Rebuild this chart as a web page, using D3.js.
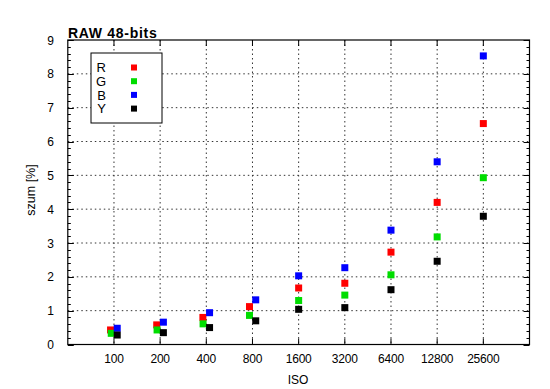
<!DOCTYPE html>
<html><head><meta charset="utf-8">
<script src="https://cdn.jsdelivr.net/npm/d3@7/dist/d3.min.js"></script>
<style>
body{margin:0;background:#fff;}
text{font-family:"Liberation Sans",Arial,sans-serif;}
</style></head>
<body><svg id="c" width="550" height="389"></svg>
<script>
const title = "RAW 48-bits";
const isoTicks = [100,200,400,800,1600,3200,6400,12800,25600];
// measured ISO positions per series (slight offsets at low ISO)
const isoR = [95,190,380,765,1600,3200,6400,12800,25600];
const isoG = [96,191,381,765,1600,3200,6400,12800,25600];
const isoB = [105,210,420,840,1600,3200,6400,12800,25600];
const isoY = [105,210,420,840,1600,3200,6400,12800,25600];
const valR = [0.43,0.58,0.80,1.12,1.67,1.81,2.73,4.20,6.53];
const valG = [0.33,0.43,0.61,0.86,1.30,1.46,2.06,3.18,4.93];
const valB = [0.48,0.66,0.94,1.32,2.03,2.27,3.38,5.40,8.53];
const valY = [0.28,0.35,0.50,0.70,1.04,1.09,1.62,2.46,3.79];
const seriesNames = ["R","G","B","Y"];
const seriesColors = ["#ff0000","#00dd00","#0000ff","#000000"];
const yMajor = [0,1,2,3,4,5,6,7,8,9];

const series = [
  {name:"R", x:isoR, y:valR},
  {name:"G", x:isoG, y:valG},
  {name:"B", x:isoB, y:valB},
  {name:"Y", x:isoY, y:valY}
];

const L=67.8, R=529.5, T=40, B=344.5;
const svg = d3.select("#c");
const x = d3.scaleLog().base(2).domain([50,51200]).range([L,R]);
const y = d3.scaleLinear().domain([0,9]).range([B,T]);

// grid
const g = svg.append("g");
g.selectAll("line.vg").data(isoTicks).join("line")
  .attr("x1",d=>x(d)).attr("x2",d=>x(d)).attr("y1",T).attr("y2",B)
  .attr("stroke","#333").attr("stroke-width",1).attr("stroke-dasharray","1.5,3");
g.selectAll("line.hg").data(yMajor.filter(v=>v>0&&v<9)).join("line")
  .attr("x1",L).attr("x2",R).attr("y1",d=>y(d)).attr("y2",d=>y(d))
  .attr("stroke","#333").attr("stroke-width",1).attr("stroke-dasharray","1.5,3");

// axes (inward ticks, mirrored)
const minor = d3.range(0,9.001,0.2);
const ax = svg.append("g").attr("stroke","#000").attr("stroke-width",1);
ax.selectAll("line.ly").data(minor).join("line")
  .attr("x1",L).attr("x2",(d)=>L+(Math.abs(d-Math.round(d))<1e-6?6:3))
  .attr("y1",d=>Math.round(y(d))+0.5).attr("y2",d=>Math.round(y(d))+0.5);
ax.selectAll("line.ry").data(minor).join("line")
  .attr("x1",R).attr("x2",(d)=>R-(Math.abs(d-Math.round(d))<1e-6?6:3))
  .attr("y1",d=>Math.round(y(d))+0.5).attr("y2",d=>Math.round(y(d))+0.5);
ax.selectAll("line.bx").data(isoTicks).join("line")
  .attr("x1",d=>x(d)).attr("x2",d=>x(d)).attr("y1",B).attr("y2",B-6);
ax.selectAll("line.tx").data(isoTicks).join("line")
  .attr("x1",d=>x(d)).attr("x2",d=>x(d)).attr("y1",T).attr("y2",T+6);
svg.append("rect").attr("x",L).attr("y",T).attr("width",R-L).attr("height",B-T)
  .attr("fill","none").attr("stroke","#000").attr("stroke-width",1.2);

// tick labels
svg.selectAll("text.xt").data(isoTicks).join("text")
  .attr("x",d=>x(d)).attr("y",363).attr("text-anchor","middle")
  .attr("font-size",12).attr("letter-spacing",-0.2).text(d=>d);
svg.selectAll("text.yt").data(yMajor).join("text")
  .attr("x",54).attr("y",d=>y(d)+4.5).attr("text-anchor","end")
  .attr("font-size",12).text(d=>d);

svg.append("text").attr("x",298).attr("y",384).attr("text-anchor","middle")
  .attr("font-size",12).text("ISO");
svg.append("text").attr("transform","translate(35,190) rotate(-90)")
  .attr("text-anchor","middle").attr("font-size",12.5).text("szum [%]");
svg.append("text").attr("x",68).attr("y",38).attr("font-size",14)
  .attr("letter-spacing",0.7).attr("font-weight","bold").text(title);

// legend
const lg = svg.append("g");
lg.append("rect").attr("x",91).attr("y",53).attr("width",71).attr("height",70)
  .attr("fill","#fff").attr("stroke","#000").attr("stroke-width",1);
seriesNames.forEach((n,i)=>{
  const yy = 67.5 + i*13.7;
  lg.append("text").attr("x",106).attr("y",yy+4.8).attr("text-anchor","end")
    .attr("font-size",13).text(n);
  lg.append("rect").attr("x",131).attr("y",yy-3).attr("width",6).attr("height",6)
    .attr("fill",seriesColors[i]);
});

// points
series.forEach((s,i)=>{
  svg.append("g").selectAll("rect").data(s.y.map((v,j)=>({x:s.x[j],v}))).join("rect")
    .attr("x",d=>x(d.x)-3.5).attr("y",d=>y(d.v)-3.5).attr("width",7).attr("height",7)
    .attr("fill",seriesColors[i]);
});
</script></body></html>
